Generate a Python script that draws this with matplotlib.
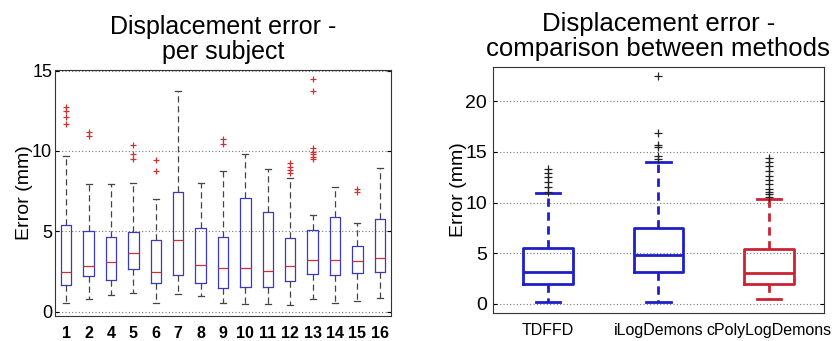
import matplotlib
matplotlib.use("Agg")
import matplotlib.pyplot as plt

plt.rcParams['font.family'] = ['Liberation Sans', 'DejaVu Sans']

# per subject box stats (mm)
subjects = ['1', '2', '4', '5', '6', '7', '8', '9', '10', '11', '12', '13', '14', '15', '16']
subj_whislo = [0.52, 0.77, 1.06, 1.14, 0.52, 1.10, 0.98, 0.56, 0.48, 0.48, 0.41, 0.81, 0.56, 0.66, 0.85]
subj_q1 = [1.64, 2.20, 1.95, 2.63, 1.80, 2.30, 1.80, 1.45, 1.56, 1.51, 1.91, 2.34, 2.30, 2.39, 2.49]
subj_med = [2.45, 2.86, 3.07, 3.67, 2.45, 4.48, 2.90, 2.70, 2.70, 2.53, 2.86, 3.22, 3.22, 3.17, 3.36]
subj_q3 = [5.39, 5.04, 4.63, 4.98, 4.46, 7.43, 5.21, 4.67, 7.07, 6.18, 4.56, 5.10, 5.87, 4.11, 5.77]
subj_whishi = [9.71, 7.93, 7.93, 8.01, 6.99, 13.73, 8.03, 8.78, 9.79, 8.86, 8.34, 6.02, 7.76, 5.54, 8.96]
subj_fliers = [
    [12.76, 12.49, 12.10, 11.68],
    [11.16, 10.95],
    [],
    [10.35, 9.81, 9.48],
    [9.44, 8.78],
    [],
    [],
    [10.73, 10.44],
    [],
    [],
    [9.23, 9.02, 8.82, 8.61],
    [14.48, 13.76, 10.17, 9.96, 9.79, 9.63, 9.48],
    [],
    [7.63, 7.43],
    [],
]

# methods comparison box stats (mm)
methods = ['TDFFD', 'iLogDemons', 'cPolyLogDemons']
meth_whislo = [0.23, 0.23, 0.49]
meth_q1 = [1.97, 3.19, 1.97]
meth_med = [3.19, 4.83, 3.05]
meth_q3 = [5.55, 7.49, 5.39]
meth_whishi = [10.97, 14.02, 10.31]
meth_fliers = [
    [13.30, 12.88, 12.48, 11.99, 11.56, 11.06],
    [22.46, 16.90, 15.66, 15.44, 14.58, 14.35],
    [14.45, 13.99, 13.57, 13.10, 12.64, 12.22, 11.79, 11.36, 11.07, 10.81, 10.57],
]
meth_colors = ['#1f1fc8', '#1f1fc8', '#cc2233']


def make_stats(labels, lo, q1, med, q3, hi, fl):
    stats = []
    for i in range(len(labels)):
        stats.append({'label': labels[i], 'whislo': lo[i], 'q1': q1[i], 'med': med[i],
                      'q3': q3[i], 'whishi': hi[i], 'fliers': fl[i]})
    return stats


fig = plt.figure(figsize=(8.37, 3.41), dpi=100)

# left panel
ax1 = fig.add_axes([0.0657, 0.0733, 0.4014, 0.7214])
st1 = make_stats(subjects, subj_whislo, subj_q1, subj_med, subj_q3, subj_whishi, subj_fliers)
ax1.bxp(st1, positions=range(1, len(subjects) + 1), widths=0.47, capwidths=0.27,
        boxprops=dict(color='#3a3ac0', linewidth=0.9),
        medianprops=dict(color='#d03030', linewidth=0.9),
        whiskerprops=dict(color='#444444', linewidth=0.9, linestyle=(0, (5, 3))),
        capprops=dict(color='#444444', linewidth=0.9),
        flierprops=dict(marker='+', markeredgecolor='#d03030', markersize=5, markeredgewidth=0.9))
ax1.set_xlim(0.5, len(subjects) + 0.5)
ax1.set_ylim(-0.27, 15.04)
ax1.set_yticks([0, 5, 10, 15])
ax1.grid(axis='y', linestyle=(0, (1, 2)), color='#777777', linewidth=0.8)
ax1.set_axisbelow(True)
ax1.tick_params(axis='y', direction='in', right=True, labelsize=13, pad=2, length=3)
ax1.tick_params(axis='x', length=0, labelsize=11.5, pad=7)
for lab in ax1.get_xticklabels():
    lab.set_fontweight('bold')
ax1.set_ylabel('Error (mm)', fontsize=14, labelpad=-1)
ax1.set_title('Displacement error -\nper subject', fontsize=18, pad=8, linespacing=1.05)
for sp in ax1.spines.values():
    sp.set_color('#333333')
    sp.set_linewidth(0.8)

# right panel
ax2 = fig.add_axes([0.5887, 0.082, 0.3958, 0.722])
st2 = make_stats(methods, meth_whislo, meth_q1, meth_med, meth_q3, meth_whishi, meth_fliers)
bp = ax2.bxp(st2, positions=range(1, len(methods) + 1), widths=0.45, capwidths=0.22,
             flierprops=dict(marker='+', markeredgecolor='#222222', markersize=6, markeredgewidth=0.9))
for i, c in enumerate(meth_colors):
    bp['boxes'][i].set(color=c, linewidth=2)
    bp['medians'][i].set(color=c, linewidth=2)
    for w in bp['whiskers'][2 * i:2 * i + 2]:
        w.set(color=c, linewidth=2, linestyle=(0, (3, 2)))
    for cp in bp['caps'][2 * i:2 * i + 2]:
        cp.set(color=c, linewidth=2)
ax2.set_xlim(0.5, len(methods) + 0.5)
ax2.set_ylim(-0.9, 23.4)
ax2.set_yticks([0, 5, 10, 15, 20])
ax2.grid(axis='y', linestyle=(0, (1, 2)), color='#777777', linewidth=0.8)
ax2.set_axisbelow(True)
ax2.tick_params(axis='y', direction='in', right=True, labelsize=14, pad=4, length=3)
ax2.tick_params(axis='x', length=0, labelsize=11.5, pad=7)
ax2.set_ylabel('Error (mm)', fontsize=14, labelpad=-1)
ax2.set_title('Displacement error -\ncomparison between methods', fontsize=18.5, pad=8, linespacing=1.05)
for sp in ax2.spines.values():
    sp.set_color('#333333')
    sp.set_linewidth(0.8)

fig.savefig('out.png', dpi=100)
